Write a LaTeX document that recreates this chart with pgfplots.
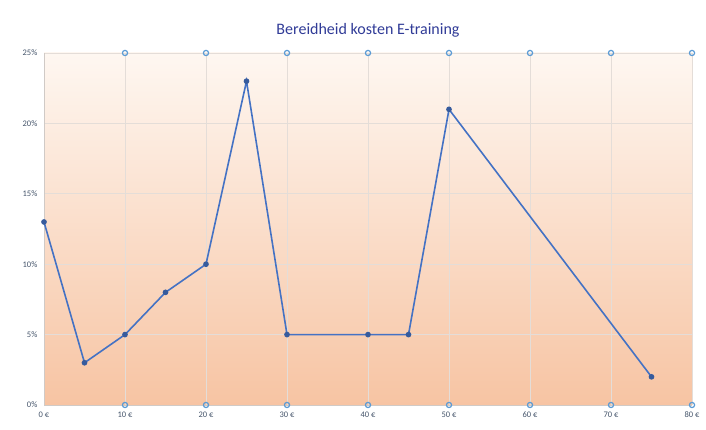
\documentclass[border=0pt]{standalone}
\usepackage{pgfplots}
\pgfplotsset{compat=1.18}
\usepackage{fontspec}
\setmainfont{Carlito}
\definecolor{linecol}{HTML}{4472C4}
\definecolor{markcol}{HTML}{5B9BD5}
\definecolor{tickcol}{HTML}{44546A}
\definecolor{gridcol}{HTML}{E4DDD8}
\begin{document}
\begin{tikzpicture}[x=1pt,y=1pt]
\path[use as bounding box] (-44,-25) rectangle (662,405);
\begin{axis}[
  at={(0,0)}, anchor=south west,
  scale only axis, width=648pt, height=352pt,
  xmin=0, xmax=80, ymin=0, ymax=25,
  clip=false,
  axis background/.style={shade, top color={rgb,255:red,254;green,247;blue,241}, bottom color={rgb,255:red,247;green,196;blue,163}},
  axis x line=bottom, axis y line=left,
  axis line style={gridcol!80!gray, -},
  xtick={0,10,...,80},
  xticklabels={0 €,10 €,20 €,30 €,40 €,50 €,60 €,70 €,80 €},
  ytick={0,5,...,25},
  yticklabels={0\%,5\%,10\%,15\%,20\%,25\%},
  tick style={draw=none},
  xmajorgrids, ymajorgrids,
  grid style={gridcol, line width=0.8pt},
  ticklabel style={font=\fontsize{8.5}{9}\selectfont, text=tickcol},
  xticklabel style={yshift=-1pt},
  yticklabel style={xshift=-1pt},
  title={Bereidheid kosten E-training},
  title style={font=\fontsize{16}{18}\selectfont, text=tickcol!70!blue, yshift=6pt},
]
\addplot[linecol, line width=1.6pt, mark=*, mark size=2pt, mark options={fill=linecol!80!black, draw=linecol!80!black}]
  coordinates {(0,13) (5,3) (10,5) (15,8) (20,10) (25,23) (30,5) (40,5) (45,5) (50,21) (75,2)};
\addplot[only marks, mark=o, mark size=2.6pt, mark options={draw=markcol, line width=1.2pt, fill=white}]
  coordinates {(10,25) (20,25) (30,25) (40,25) (50,25) (60,25) (70,25) (80,25)};
\addplot[only marks, mark=o, mark size=2.6pt, mark options={draw=markcol, line width=1.2pt, fill=white}]
  coordinates {(10,0) (20,0) (30,0) (40,0) (50,0) (60,0) (70,0) (80,0)};
\end{axis}
\end{tikzpicture}
\end{document}
